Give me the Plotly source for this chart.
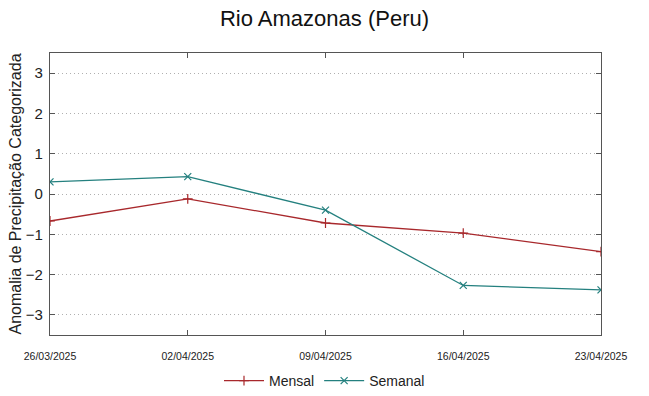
import plotly.graph_objects as go

dates = ["2025-03-26", "2025-04-02", "2025-04-09", "2025-04-16", "2025-04-23"]
tick_labels = ["26/03/2025", "02/04/2025", "09/04/2025", "16/04/2025", "23/04/2025"]
mensal = [-0.67, -0.12, -0.72, -0.97, -1.43]
semanal = [0.30, 0.43, -0.40, -2.27, -2.38]
y_ticks = [-3, -2, -1, 0, 1, 2, 3]

fig = go.Figure()
fig.add_trace(go.Scatter(
    x=dates, y=mensal, name="Mensal", mode="lines+markers",
    line=dict(color="#a8282c", width=1.3),
    marker=dict(symbol="cross-thin", size=7, line=dict(color="#a8282c", width=1.2)),
))
fig.add_trace(go.Scatter(
    x=dates, y=semanal, name="Semanal", mode="lines+markers",
    line=dict(color="#24807f", width=1.3),
    marker=dict(symbol="x-thin", size=7, line=dict(color="#24807f", width=1.2)),
))

fig.update_layout(
    width=649, height=396,
    margin=dict(l=50, r=48, t=53, b=61),
    paper_bgcolor="white", plot_bgcolor="white",
    font=dict(family="Liberation Sans, Arial, sans-serif", color="#222"),
    title=dict(text="Rio Amazonas (Peru)", x=0.5, xanchor="center", y=0.955, yanchor="middle",
               font=dict(size=22, color="#111")),
    showlegend=True,
    legend=dict(orientation="h", x=0.5, xanchor="center", xref="container",
                y=0.038, yanchor="middle", yref="container",
                font=dict(size=14, color="#222"), itemwidth=40),
    xaxis=dict(
        range=["2025-03-26", "2025-04-23"],
        tickvals=dates, ticktext=tick_labels,
        tickfont=dict(size=10.5, color="#222"),
        showgrid=False, zeroline=False, automargin=False,
        showline=True, linecolor="#555", linewidth=1.2, mirror="ticks",
        ticks="inside", ticklen=5, tickcolor="#555",
        ticklabelstandoff=11,
    ),
    yaxis=dict(
        range=[-3.5, 3.5],
        tickvals=y_ticks,
        tickfont=dict(size=15, color="#222"),
        showgrid=True, gridcolor="#b0b0b0", griddash="1px,3px", gridwidth=1,
        zeroline=False, automargin=False,
        showline=True, linecolor="#555", linewidth=1.2, mirror="ticks",
        ticks="inside", ticklen=5, tickcolor="#555",
        ticklabelstandoff=3,
        title=dict(text="Anomalia de Precipitação Categorizada", font=dict(size=16, color="#222"), standoff=0),
    ),
)

fig.write_html("out.html", config={"displayModeBar": False},
               post_script="document.body.style.margin='0';")
